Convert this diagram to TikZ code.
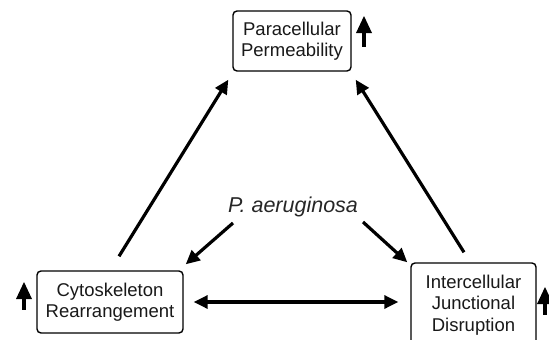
\documentclass[tikz,border=0pt]{standalone}
\usepackage{fontspec}
\setmainfont{Liberation Sans}
\usetikzlibrary{arrows.meta}
\begin{document}
\begin{tikzpicture}[x=1pt,y=-1pt,
  boxnode/.style={draw=black, line width=1.4pt, rounded corners=4pt, fill=white,
    align=center, inner sep=0pt, font=\fontsize{18.5}{21.5}\selectfont, text=black!90},
  arr/.style={line width=3.2pt, -{Triangle[length=14pt,width=13pt]}},
  darr/.style={line width=3.2pt, {Triangle[length=14pt,width=13pt]}-{Triangle[length=14pt,width=13pt]}}
]
\useasboundingbox (0,0) rectangle (549,340);
\clip (0,0) rectangle (549,340);

% boxes
\node[boxnode, minimum width=118pt, minimum height=60pt] (top) at (292,41) {Paracellular\\Permeability};
\node[boxnode, minimum width=146pt, minimum height=62pt] (cyto) at (110,302) {Cytoskeleton\\Rearrangement};
\node[boxnode, minimum width=125pt, minimum height=84pt] (inter) at (473.5,305) {Intercellular\\Junctional\\Disruption};

% P. aeruginosa
\node[anchor=base, inner sep=0pt, font=\fontsize{21.5}{25}\selectfont\itshape, text=black!85] (pa) at (293,212) {P. aeruginosa};

% connectors
\draw[arr] ([xshift=9pt,yshift=14pt]cyto.north) -- ([xshift=-4pt,yshift=-8pt]top.south west);
\draw[arr] ([xshift=-9.5pt,yshift=10pt]inter.north) -- ([xshift=4pt,yshift=-8pt]top.south east);
\draw[arr] ([xshift=-60pt,yshift=-11pt]pa.base) -- ([xshift=2pt,yshift=6pt]cyto.north east);
\draw[arr] ([xshift=70pt,yshift=-10pt]pa.base) -- ([xshift=-3pt,yshift=0pt]inter.north west);
\draw[darr, shorten <=10pt, shorten >=12pt] (cyto.east) -- (cyto.east -| inter.west);

% up arrows (increase indicators)
\foreach \ax/\ht/\hb/\sm/\sb in {364/16/33/48/63, 24/282/299/311/327, 545/287/304/316/341}{
  \fill[black] (\ax-8,\hb) -- (\ax,\ht) -- (\ax+8,\hb) -- cycle;
  \fill[black] (\ax-2.4,\hb-0.5) rectangle (\ax+2.4,\sm);
  \shade[top color=black, bottom color=white] (\ax-2.4,\sm-0.2) rectangle (\ax+2.4,\sb);
}
\end{tikzpicture}
\end{document}
